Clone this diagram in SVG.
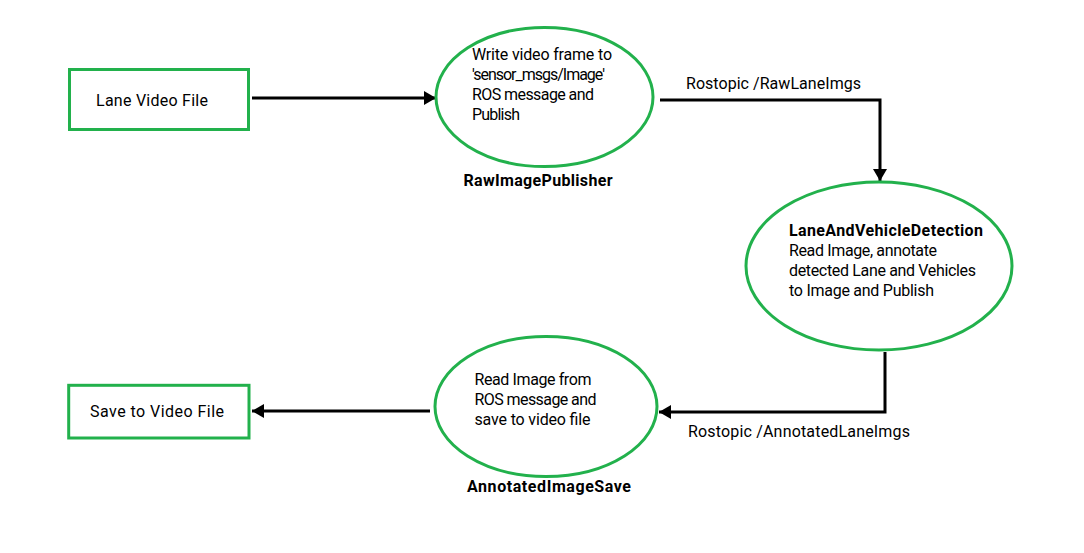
<svg xmlns="http://www.w3.org/2000/svg" width="1084" height="553" viewBox="0 0 1084 553">
<defs>
<style>
.node{fill:#fff;stroke:#22b14c;stroke-width:3}
.t{font-family:Roboto,"Noto Sans","DejaVu Sans",sans-serif;font-size:16px;fill:#000}
.b{font-family:Roboto,"Noto Sans","DejaVu Sans",sans-serif;font-size:16px;font-weight:bold;fill:#000}
.edge{fill:none;stroke:#000;stroke-width:3}
</style>
<marker id="arr" markerUnits="userSpaceOnUse" markerWidth="14" markerHeight="14" viewBox="0 0 12 14" refX="12" refY="7" orient="auto">
<path d="M0,0 L12,7 L0,14 Z" fill="#000"/>
</marker>
</defs>
<rect width="1084" height="553" fill="#fff"/>
<g id="connectors">
<line class="edge" x1="252" y1="98" x2="436" y2="98" marker-end="url(#arr)"/>
<polyline class="edge" points="660,100 880,100 880,181" marker-end="url(#arr)"/>
<text class="t" x="686" y="89" textLength="175">Rostopic /RawLaneImgs</text>
<polyline class="edge" points="885,352 885,412 659,412" marker-end="url(#arr)"/>
<text class="t" x="688" y="437" textLength="222">Rostopic /AnnotatedLaneImgs</text>
<line class="edge" x1="430" y1="411" x2="252" y2="411" marker-end="url(#arr)"/>
</g>
<g id="lane-video-file">
<rect class="node" x="69.5" y="69.5" width="179" height="60"/>
<text class="t" x="96" y="106" textLength="112">Lane Video File</text>
</g>
<g id="raw-image-publisher">
<ellipse class="node" cx="544.5" cy="97" rx="108.5" ry="69.5"/>
<text class="t" x="472" y="59.5" textLength="140">Write video frame to</text>
<text class="t" x="472" y="80" textLength="133">'sensor_msgs/Image'</text>
<text class="t" x="472" y="100" textLength="122">ROS message and</text>
<text class="t" x="472" y="119.5" textLength="48">Publish</text>
<text class="b" x="463.5" y="186" textLength="149">RawImagePublisher</text>
</g>
<g id="lane-and-vehicle-detection">
<ellipse class="node" cx="879" cy="266" rx="133" ry="84"/>
<text class="b" x="789" y="236" textLength="194">LaneAndVehicleDetection</text>
<text class="t" x="789" y="256" textLength="148">Read Image, annotate</text>
<text class="t" x="789" y="276" textLength="187">detected Lane and Vehicles</text>
<text class="t" x="789" y="296" textLength="145">to Image and Publish</text>
</g>
<g id="annotated-image-save">
<ellipse class="node" cx="546" cy="406.5" rx="111" ry="70"/>
<text class="t" x="474.5" y="385" textLength="117">Read Image from</text>
<text class="t" x="474.5" y="405" textLength="122">ROS message and</text>
<text class="t" x="474.5" y="424.5" textLength="116">save to video file</text>
<text class="b" x="467" y="492" textLength="164">AnnotatedImageSave</text>
</g>
<g id="save-to-video-file">
<rect class="node" x="68.7" y="385.3" width="180.3" height="52.7"/>
<text class="t" x="90" y="417" textLength="134">Save to Video File</text>
</g>
</svg>
